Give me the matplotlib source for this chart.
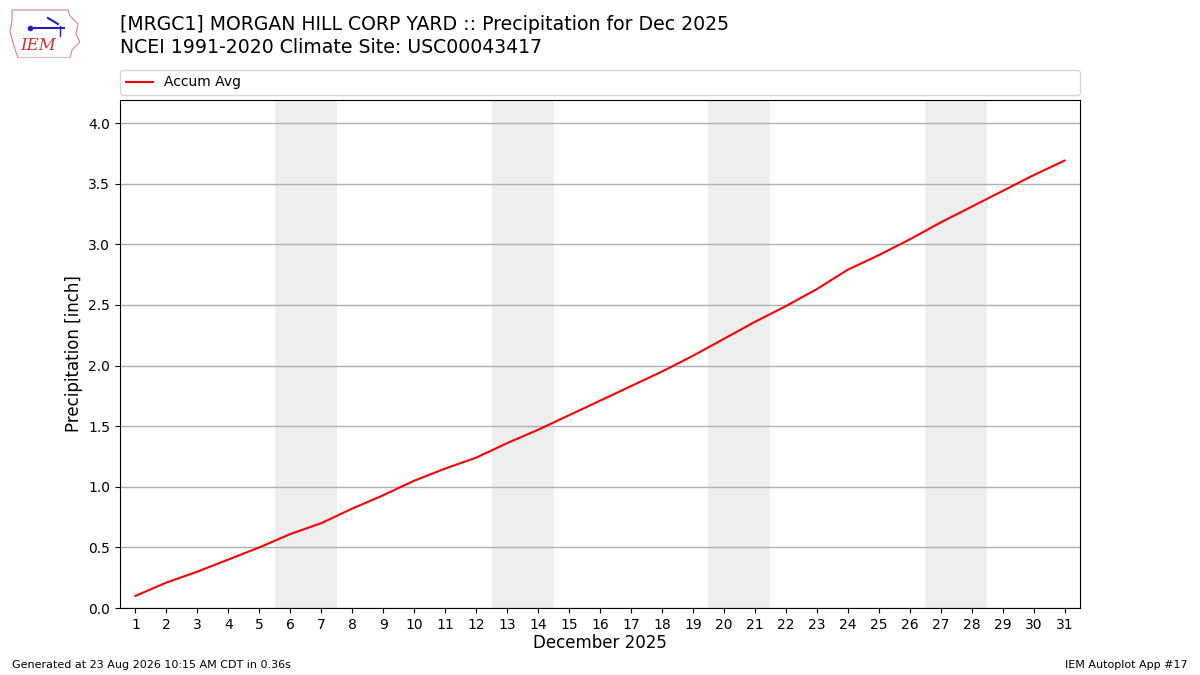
import matplotlib
matplotlib.use("Agg")
import matplotlib.pyplot as plt
from matplotlib.patches import Polygon

days = list(range(1, 32))
accum_avg = [0.10, 0.21, 0.30, 0.40, 0.50, 0.61, 0.70, 0.82, 0.93, 1.05,
             1.15, 1.24, 1.36, 1.47, 1.59, 1.71, 1.83, 1.95, 2.08, 2.22,
             2.36, 2.49, 2.63, 2.79, 2.91, 3.04, 3.18, 3.31, 3.44, 3.57, 3.69]
weekends = [(6, 7), (13, 14), (20, 21), (27, 28)]
title = "[MRGC1] MORGAN HILL CORP YARD :: Precipitation for Dec 2025\nNCEI 1991-2020 Climate Site: USC00043417"

fig = plt.figure(figsize=(12, 6.75), dpi=100)
ax = fig.add_axes([0.1, 1 - 608 / 675, 0.8, (608 - 100) / 675])

for a, b in weekends:
    ax.axvspan(a - 0.5, b + 0.5, color="#eeeeee", zorder=0, lw=0)

ax.plot(days, accum_avg, color="red", lw=1.5, label="Accum Avg", zorder=3)
ax.set_xlim(0.5, 31.5)
ax.set_ylim(0, 4.19)
ax.set_xticks(days)
ax.set_yticks([0, 0.5, 1.0, 1.5, 2.0, 2.5, 3.0, 3.5, 4.0])
ax.yaxis.grid(True, color="#b0b0b0", lw=1, zorder=1)
ax.set_axisbelow(True)
ax.set_ylabel("Precipitation [inch]", fontsize=12)
ax.set_xlabel("December 2025", fontsize=12, labelpad=2)

ax.legend(loc="lower left", bbox_to_anchor=(0, 1.01, 1, 0.05), mode="expand",
          ncol=1, fontsize=10, borderaxespad=0, handlelength=2.0)

fig.text(120 / 1200, 1 - 15 / 675, title, fontsize=13.6, ha="left", va="top",
         linespacing=1.25)

fig.text(12 / 1200, 1 - 665 / 675, "Generated at 23 Aug 2026 10:15 AM CDT in 0.36s",
         fontsize=8, ha="left", va="center")
fig.text(1188 / 1200, 1 - 665 / 675, "IEM Autoplot App #17",
         fontsize=8, ha="right", va="center")

# simple logo
lax = fig.add_axes([8 / 1200, 1 - 58 / 675, 72 / 1200, 52 / 675])
lax.set_xlim(0, 72)
lax.set_ylim(52, 0)
lax.axis("off")
outline = [(4, 4), (60, 4), (62, 10), (70, 18), (68, 28), (72, 36), (64, 44),
           (62, 52), (10, 52), (6, 40), (2, 26), (4, 14)]
lax.add_patch(Polygon(outline, closed=True, fill=False, edgecolor="#e08080", lw=0.8))
lax.plot([22, 56], [22, 22], color="#2020c0", lw=1.5)
lax.plot([22], [22], "o", color="#2020c0", ms=3)
lax.plot([40, 50], [12, 18], color="#2020c0", lw=1.5)
lax.plot([52, 52], [20, 30], color="#2020c0", lw=1)
lax.text(12, 48, "IEM", color="#d03030", fontsize=12, family="DejaVu Serif",
         style="italic", va="bottom")

fig.savefig("out.png", dpi=100)
